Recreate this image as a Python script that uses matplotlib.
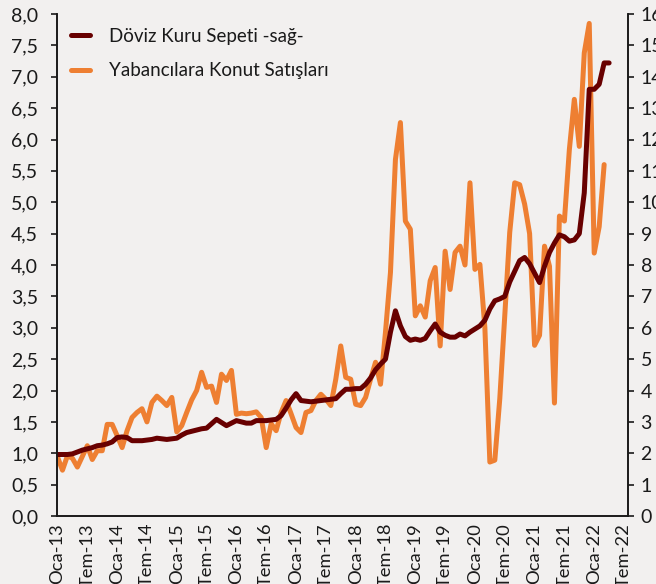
import numpy as np
import matplotlib
matplotlib.use('Agg')
import matplotlib.pyplot as plt
from matplotlib.ticker import MultipleLocator, FuncFormatter

plt.rcParams['font.family'] = ['Lato', 'DejaVu Sans']

# aylik veri, Ocak 2013'ten itibaren
doviz_sepeti = [  # sag eksen
    1.96, 1.96, 1.96, 1.98, 2.04, 2.10, 2.14, 2.18, 2.24, 2.26, 2.30, 2.36,
    2.50, 2.52, 2.50, 2.40, 2.40, 2.40, 2.42, 2.44, 2.48, 2.46, 2.44, 2.46,
    2.48, 2.58, 2.66, 2.70, 2.74, 2.78, 2.80, 2.94, 3.08, 2.98, 2.88, 2.96,
    3.04, 3.00, 2.96, 2.96, 3.04, 3.04, 3.04, 3.06, 3.08, 3.20, 3.44, 3.70,
    3.90, 3.68, 3.66, 3.64, 3.66, 3.68, 3.70, 3.72, 3.74, 3.90, 4.04, 4.04,
    4.06, 4.06, 4.20, 4.40, 4.66, 4.84, 5.00, 5.86, 6.54, 6.06, 5.72, 5.60,
    5.64, 5.60, 5.66, 5.90, 6.12, 5.86, 5.76, 5.70, 5.70, 5.80, 5.74, 5.86,
    5.96, 6.06, 6.24, 6.60, 6.86, 6.92, 7.00, 7.46, 7.80, 8.14, 8.24, 8.04,
    7.74, 7.44, 7.96, 8.40, 8.70, 8.96, 8.90, 8.76, 8.80, 9.00, 10.30, 13.60,
    13.60, 13.76, 14.44, 14.44,
]

konut_satis = [  # sol eksen
    0.94, 0.73, 0.96, 0.92, 0.78, 0.95, 1.12, 0.90, 1.04, 1.04, 1.46, 1.46,
    1.28, 1.09, 1.36, 1.57, 1.65, 1.71, 1.50, 1.81, 1.91, 1.84, 1.76, 1.89,
    1.34, 1.44, 1.65, 1.85, 2.00, 2.29, 2.05, 2.07, 1.81, 2.26, 2.16, 2.32,
    1.62, 1.64, 1.63, 1.64, 1.66, 1.57, 1.09, 1.47, 1.36, 1.65, 1.84, 1.63,
    1.41, 1.33, 1.65, 1.68, 1.84, 1.94, 1.86, 1.76, 2.18, 2.71, 2.21, 2.18,
    1.78, 1.76, 1.89, 2.18, 2.45, 2.10, 2.93, 3.88, 5.68, 6.27, 4.70, 4.57,
    3.19, 3.35, 3.17, 3.75, 3.96, 2.71, 4.22, 3.61, 4.20, 4.30, 4.00, 5.31,
    3.93, 4.01, 3.00, 0.86, 0.89, 1.87, 3.19, 4.52, 5.31, 5.28, 4.97, 4.50,
    2.72, 2.88, 4.30, 3.98, 1.80, 4.78, 4.70, 5.84, 6.64, 5.89, 7.38, 7.85,
    4.19, 4.61, 5.60,
]

etiketler = []
for yil in range(13, 23):
    etiketler += ['Oca-%d' % yil, 'Tem-%d' % yil]

bg = '#f2f0ef'
koyu = '#680000'
turuncu = '#ee7f32'
yazi = '#1a1a1a'

fig = plt.figure(figsize=(6.56, 5.84), dpi=100, facecolor=bg)
ax = fig.add_axes([57 / 656, 1 - 516 / 584, (628 - 57) / 656, (516 - 14) / 584])
ax.set_facecolor(bg)
ax2 = ax.twinx()

l2, = ax.plot(np.arange(len(konut_satis)), konut_satis, color=turuncu, lw=3.6,
              solid_capstyle='round', solid_joinstyle='round',
              label='Yabancılara Konut Satışları')
l1, = ax2.plot(np.arange(len(doviz_sepeti)), doviz_sepeti, color=koyu, lw=3.6,
               solid_capstyle='round', solid_joinstyle='round',
               label='Döviz Kuru Sepeti -sağ-')

ax.set_xlim(-0.1, 114.8)
ax.set_ylim(0, 8)
ax2.set_ylim(0, 16)

ax.yaxis.set_major_locator(MultipleLocator(0.5))
ax.yaxis.set_major_formatter(FuncFormatter(lambda v, p: ('%.1f' % v).replace('.', ',')))
ax2.yaxis.set_major_locator(MultipleLocator(1))
ax2.yaxis.set_major_formatter(FuncFormatter(lambda v, p: '%d' % v))

ax.set_xticks(np.arange(0, 115, 6))
ax.set_xticklabels(etiketler, rotation=90)
ax.tick_params(axis='x', length=0, pad=5, labelsize=13.2, colors=yazi)
ax.tick_params(axis='y', length=4.5, width=1.2, pad=9, labelsize=14, colors=yazi)
ax2.tick_params(axis='y', length=4.5, width=1.2, pad=4.5, labelsize=14, colors=yazi)

for a in (ax, ax2):
    a.spines['top'].set_visible(False)
    for s in ('left', 'right', 'bottom'):
        a.spines[s].set_linewidth(1.2)
        a.spines[s].set_color(yazi)

leg = ax2.legend(handles=[l1, l2], loc='upper left', bbox_to_anchor=(0.012, 0.988),
                 borderaxespad=0, frameon=False, fontsize=13.5, handlelength=1.0,
                 handletextpad=1.0, labelspacing=0.95)
for t in leg.get_texts():
    t.set_color(yazi)

fig.savefig('out.png', dpi=100, facecolor=bg)
